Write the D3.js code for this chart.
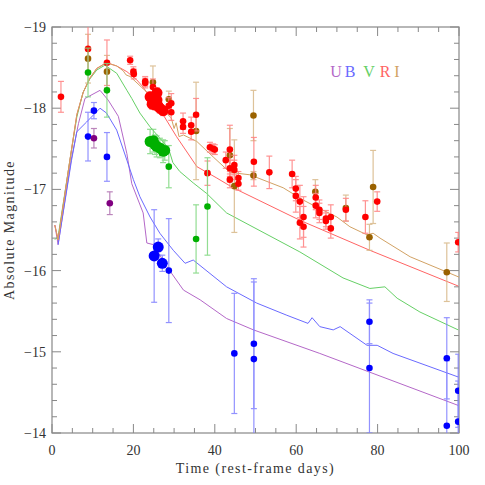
<!DOCTYPE html>
<html>
<head>
<meta charset="utf-8">
<script src="https://cdn.jsdelivr.net/npm/d3@7"></script>
<style>
body { margin: 0; background: #fff; }
text { font-family: "Liberation Serif", "DejaVu Serif", serif; }
</style>
</head>
<body>
<svg width="485" height="485"></svg>
<script>
// ---- data (days, absolute magnitude) ----
var bands = ["U", "B", "V", "R", "I"];

// model light curves
var uModelDay = [0.7, 1.5, 4.7, 6.5, 8.1, 11.8, 13.8, 16.3, 18.4, 19.6, 22.4, 23.3, 24.9, 28.2, 32.3, 36.4, 42.9, 49.5, 65.8, 99.8];
var uModelMag = [-16.56, -16.32, -17.36, -17.81, -18.12, -18.22, -18.1, -17.9, -17.44, -17.07, -16.71, -16.34, -16.32, -16.05, -15.76, -15.64, -15.41, -15.27, -14.98, -14.34];
var bModelDay = [1.5, 4.8, 6.1, 8.5, 11.8, 13.4, 15.9, 18.4, 20.0, 21.6, 24.1, 26.5, 29.8, 32.7, 34.7, 42.9, 50.3, 57.7, 62.9, 63.9, 65.8, 69.1, 70.8, 77.4, 79.9, 83.8, 99.8];
var bModelMag = [-16.32, -17.36, -17.71, -17.83, -18.0, -17.94, -17.73, -17.36, -17.12, -16.91, -16.66, -16.46, -16.25, -16.09, -16.13, -15.8, -15.6, -15.45, -15.35, -15.42, -15.31, -15.27, -15.31, -15.08, -15.08, -14.98, -14.69];
var vModelDay = [0.7, 1.5, 4.4, 6.1, 7.6, 9.3, 11.0, 13.0, 15.9, 18.4, 19.6, 21.6, 24.1, 26.5, 28.6, 29.7, 31.4, 34.7, 38.0, 42.9, 60.9, 71.5, 78.1, 81.8, 84.8, 90.4, 99.8];
var vModelMag = [-16.38, -16.42, -17.36, -17.89, -18.19, -18.36, -18.47, -18.53, -18.43, -18.22, -18.12, -17.94, -17.77, -17.63, -17.51, -17.33, -17.22, -17.08, -16.95, -16.71, -16.23, -15.91, -15.78, -15.8, -15.66, -15.49, -15.27];
var rModelDay = [0.7, 1.5, 4.4, 6.1, 7.7, 9.3, 11.0, 13.4, 15.9, 18.4, 20.8, 22.4, 24.1, 27.3, 30.6, 35.6, 40.5, 44.5, 60.9, 78.1, 99.8];
var rModelMag = [-16.56, -16.38, -17.36, -17.92, -18.2, -18.37, -18.49, -18.56, -18.52, -18.45, -18.35, -18.26, -18.13, -17.92, -17.65, -17.28, -17.14, -17.02, -16.62, -16.25, -15.81];
var iModelDay = [0.7, 1.5, 4.4, 6.1, 7.7, 9.3, 11.0, 13.4, 15.9, 17.5, 18.2, 19.2, 24.1, 27.3, 28.5, 29.3, 30.0, 30.5, 31.2, 32.3, 35.6, 39.6, 43.7, 48.6, 56.8, 61.7, 65.1, 70.0, 73.2, 77.4, 78.9, 80.6, 88.0, 100];
var iModelMag = [-16.56, -16.38, -17.36, -17.92, -18.2, -18.37, -18.49, -18.56, -18.52, -18.46, -18.41, -18.39, -18.16, -17.98, -17.92, -17.88, -17.75, -17.82, -17.65, -17.67, -17.59, -17.4, -17.21, -17.18, -17.02, -16.87, -16.78, -16.66, -16.54, -16.44, -16.46, -16.4, -16.17, -15.92];

// observed photometry: day, magnitude, error
var uDay = [10.3, 14.2];
var uMag = [-17.63, -16.83];
var uErr = [0.12, 0.14];

var bDay = [8.85, 10.3, 13.5, 28.7, 44.8, 49.6, 49.6, 78.0, 78.0, 97.0, 97.0, 99.8, 99.8];
var bMag = [-17.65, -17.97, -17.4, -16.0, -14.98, -15.1, -14.91, -15.37, -14.8, -14.92, -14.09, -14.52, -14.14];
var bErr = [0.3, 0.1, 0.3, 0.64, 0.74, 0.8, 0.95, 0.27, 0.8, 0.5, 0.8, 0.45, 0.5];
// densely sampled spectrophotometry (large symbols)
var bDenseDay = [25.1, 26.1, 27.1];
var bDenseMag = [-16.18, -16.29, -16.09];
var bDenseErr = [0.57, 0.1, 0.1];

var vDay = [8.85, 13.5, 28.7, 35.4, 38.2];
var vMag = [-18.44, -18.22, -17.28, -16.39, -16.79];
var vErr = [0.3, 0.33, 0.26, 0.42, 0.6];
var vDenseDay = [24.1, 24.9, 25.3, 25.7, 26.5, 27.3, 27.7];
var vDenseMag = [-17.59, -17.6, -17.55, -17.53, -17.51, -17.47, -17.48];
var vDenseErr = [0.15, 0.14, 0.12, 0.13, 0.12, 0.14, 0.12];

var rDay = [2.2, 8.85, 13.5, 19.2, 20.0, 20.1, 22.9, 22.9, 24.8, 28.7, 29.3, 29.3, 32.2, 32.2, 34.2, 34.2, 35.4, 38.2, 38.8, 39.6, 40.0,
            42.7, 43.7, 43.7, 43.7, 44.8, 44.8, 45.8, 45.8, 49.6, 53.4, 59.0, 59.9, 59.9, 60.9, 61.8, 60.9, 61.8, 64.8, 64.8, 65.7, 65.7,
            67.3, 67.3, 68.5, 68.5, 72.2, 77.0, 79.9, 99.8];
var rMag = [-18.14, -18.73, -18.56, -18.59, -18.45, -18.42, -18.33, -18.31, -18.26, -18.03, -18.06, -17.95, -17.84, -17.77, -17.79, -17.71, -17.92, -17.2, -17.52, -17.5, -17.49,
            -17.36, -17.49, -17.26, -17.12, -17.3, -17.24, -17.14, -17.07, -17.34, -17.21, -17.19, -17.01, -16.92, -16.85, -16.66, -16.59, -16.54, -16.9, -16.8, -16.75, -16.71,
            -16.64, -16.61, -16.66, -16.52, -16.75, -16.66, -16.85, -16.35];
var rErr = [0.19, 0.3, 0.28, 0.05, 0.06, 0.06, 0.06, 0.06, 0.1, 0.1, 0.12, 0.1, 0.1, 0.08, 0.1, 0.1, 0.2, 0.15, 0.06, 0.06, 0.06,
            0.1, 0.3, 0.1, 0.1, 0.12, 0.12, 0.08, 0.08, 0.3, 0.2, 0.17, 0.15, 0.2, 0.2, 0.25, 0.2, 0.25, 0.15, 0.15, 0.12, 0.12,
            0.1, 0.1, 0.15, 0.12, 0.14, 0.2, 0.12, 0.12];
var rDenseDay = [24.1, 24.6, 24.8, 25.1, 25.3, 25.8, 25.8, 26.0, 26.5, 27.3];
var rDenseMag = [-18.14, -18.05, -18.13, -18.09, -18.04, -18.19, -18.1, -18.03, -18.0, -17.97];
var rDenseErr = [0.06, 0.06, 0.06, 0.06, 0.06, 0.06, 0.06, 0.06, 0.06, 0.06];

var iDay = [8.85, 13.5, 24.8, 28.7, 35.4, 43.7, 44.8, 49.5, 49.5, 64.7, 72.2, 78.9, 78.0, 97.0];
var iMag = [-18.61, -18.45, -18.32, -18.11, -17.72, -17.42, -17.04, -17.91, -17.17, -16.97, -16.77, -17.03, -16.41, -15.98];
var iErr = [0.3, 0.2, 0.2, 0.1, 0.6, 0.33, 0.57, 0.31, 0.05, 0.15, 0.16, 0.45, 0.16, 0.36];

var xTicks = [0, 20, 40, 60, 80, 100];
var yTicks = [-19, -18, -17, -16, -15, -14];

// ---- drawing ----
var svg = d3.select("svg"),
    margin = {left: 52, top: 27, right: 26, bottom: 52},
    width = +svg.attr("width") - margin.left - margin.right,
    height = +svg.attr("height") - margin.top - margin.bottom;

var x = d3.scaleLinear().domain([0, 100]).range([0, width]);
var y = d3.scaleLinear().domain([-19, -14]).range([0, height]);

var lineCol = {U: "#b468c8", B: "#6a6aff", V: "#66d066", R: "#ff6464", I: "#d2a264"};
var ptCol   = {U: "#800080", B: "#0000ff", V: "#00b000", R: "#ff0000", I: "#9a6200"};
var errCol  = {U: "#b070b0", B: "#8080ff", V: "#80d880", R: "#ff8080", I: "#d8b888"};

var g = svg.append("g").attr("transform", "translate(" + margin.left + "," + margin.top + ")");

svg.append("defs").append("clipPath").attr("id", "clip")
    .append("rect").attr("width", width).attr("height", height);

// ticks on all four sides (inward)
var frameCol = "#888";
var ax = g.append("g");
var xMinor = d3.range(0, 101, 5), yMinor = d3.range(-19, -13.99, 0.2);
xMinor.forEach(function(d){
    var len = (d % 20 === 0) ? 9 : 5;
    ax.append("line").attr("x1", x(d)).attr("x2", x(d)).attr("y1", height).attr("y2", height - len).attr("stroke", frameCol);
    ax.append("line").attr("x1", x(d)).attr("x2", x(d)).attr("y1", 0).attr("y2", len).attr("stroke", frameCol);
});
yMinor.forEach(function(d){
    var major = Math.abs(d - Math.round(d)) < 1e-6;
    var len = major ? 9 : 5;
    ax.append("line").attr("y1", y(d)).attr("y2", y(d)).attr("x1", 0).attr("x2", len).attr("stroke", frameCol);
    ax.append("line").attr("y1", y(d)).attr("y2", y(d)).attr("x1", width).attr("x2", width - len).attr("stroke", frameCol);
});
g.append("rect").attr("width", width).attr("height", height)
    .attr("fill", "none").attr("stroke", frameCol).attr("stroke-width", 1.2);

// tick labels
g.selectAll(".xl").data(xTicks).enter().append("text")
    .attr("x", d => x(d)).attr("y", height + 22)
    .attr("text-anchor", "middle").attr("font-size", 14).attr("fill", "#333")
    .text(d => d);
g.selectAll(".yl").data(yTicks).enter().append("text")
    .attr("x", -6).attr("y", d => y(d) + 5)
    .attr("text-anchor", "end").attr("font-size", 14).attr("fill", "#333")
    .text(d => "\u2212" + Math.abs(d));

g.append("text").attr("x", width / 2).attr("y", height + 40)
    .attr("text-anchor", "middle").attr("font-size", 14).attr("fill", "#333")
    .attr("letter-spacing", 1.4)
    .text("Time (rest-frame days)");
g.append("text").attr("transform", "translate(" + (-38) + "," + (height / 2) + ") rotate(-90)")
    .attr("text-anchor", "middle").attr("font-size", 14).attr("fill", "#333")
    .attr("letter-spacing", 1.4)
    .text("Absolute Magnitude");

// legend
var legX = [284, 298, 317, 333, 345];
bands.forEach(function(b, i){
    g.append("text").attr("x", legX[i]).attr("y", 50)
        .attr("text-anchor", "middle").attr("font-size", 16)
        .attr("fill", lineCol[b]).text(b);
});

var plot = g.append("g").attr("clip-path", "url(#clip)");

// model curves
var models = {
    U: [uModelDay, uModelMag], B: [bModelDay, bModelMag], V: [vModelDay, vModelMag],
    R: [rModelDay, rModelMag], I: [iModelDay, iModelMag]
};
var line = d3.line().x(d => x(d[0])).y(d => y(d[1]));
["U", "B", "V", "R", "I"].forEach(function(b){
    var m = models[b];
    var pts = m[0].map((d, i) => [d, m[1][i]]);
    plot.append("path").datum(pts).attr("d", line)
        .attr("fill", "none").attr("stroke", lineCol[b]).attr("stroke-width", 1);
});

// observations
function obs(b, days, mags, errs, r){
    var data = days.map((d, i) => ({d: d, m: mags[i], e: errs[i]}));
    var eg = plot.append("g").attr("stroke", errCol[b]).attr("stroke-width", 1.2).attr("opacity", 0.85);
    data.forEach(function(p){
        eg.append("line").attr("x1", x(p.d)).attr("x2", x(p.d)).attr("y1", y(p.m - p.e)).attr("y2", y(p.m + p.e));
        eg.append("line").attr("x1", x(p.d) - 3).attr("x2", x(p.d) + 3).attr("y1", y(p.m - p.e)).attr("y2", y(p.m - p.e));
        eg.append("line").attr("x1", x(p.d) - 3).attr("x2", x(p.d) + 3).attr("y1", y(p.m + p.e)).attr("y2", y(p.m + p.e));
    });
    plot.append("g").selectAll("circle").data(data).enter().append("circle")
        .attr("cx", p => x(p.d)).attr("cy", p => y(p.m)).attr("r", r)
        .attr("fill", ptCol[b]);
}
obs("I", iDay, iMag, iErr, 3.3);
obs("R", rDay, rMag, rErr, 3.3);
obs("R", rDenseDay, rDenseMag, rDenseErr, 5.5);
obs("V", vDay, vMag, vErr, 3.3);
obs("V", vDenseDay, vDenseMag, vDenseErr, 5.5);
obs("B", bDay, bMag, bErr, 3.3);
obs("B", bDenseDay, bDenseMag, bDenseErr, 5.5);
obs("U", uDay, uMag, uErr, 3.3);
</script>
</body>
</html>
